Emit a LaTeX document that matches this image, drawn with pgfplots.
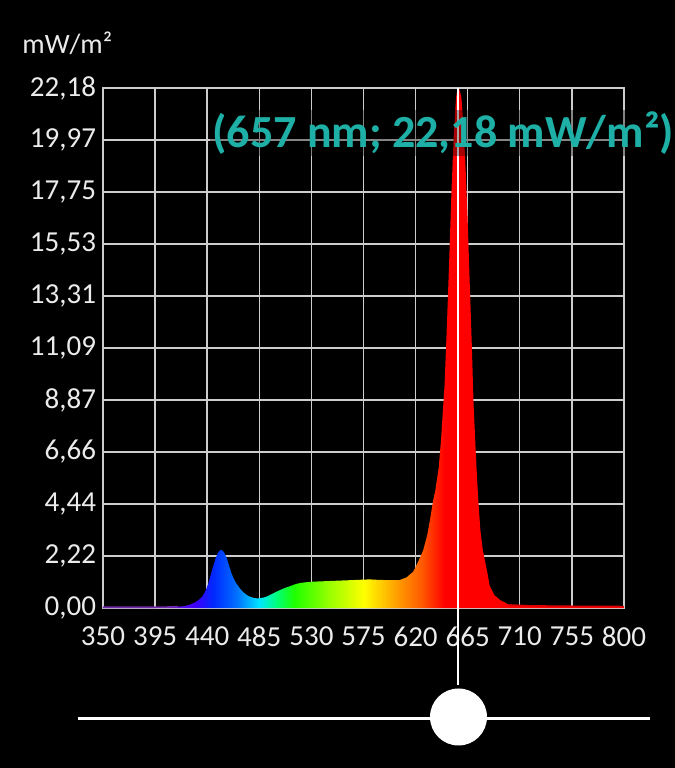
\documentclass[border=0pt]{standalone}
\usepackage{pgfplots}
\pgfplotsset{compat=1.18}
\usepackage{fontspec}
\setmainfont{Carlito}

\definecolor{gridc}{RGB}{205,205,205}
\definecolor{lbl}{RGB}{235,235,235}
\definecolor{annot}{RGB}{30,176,166}
% spectrum colours
\definecolor{sVio}{RGB}{110,40,170}
\definecolor{sVio2}{RGB}{100,20,220}
\definecolor{sInd}{RGB}{60,0,255}
\definecolor{sBlue}{RGB}{0,40,255}
\definecolor{sBlue2}{RGB}{0,110,255}
\definecolor{sCyan}{RGB}{0,230,255}
\definecolor{sTeal}{RGB}{0,255,120}
\definecolor{sGreen}{RGB}{30,255,0}
\definecolor{sLime}{RGB}{150,255,0}
\definecolor{sYel}{RGB}{255,255,0}
\definecolor{sOra}{RGB}{255,170,0}
\definecolor{sOra2}{RGB}{255,90,0}
\definecolor{sRed}{RGB}{255,0,0}

% stop = 25 + (lambda-350)/9  (bbox of path -> inner 50bp)
\pgfdeclarehorizontalshading{spectrum}{100bp}{%
  color(0bp)=(sVio); color(25bp)=(sVio); color(31.67bp)=(sVio2);
  color(33.89bp)=(sInd); color(35.56bp)=(sBlue); color(37.78bp)=(sBlue2);
  color(40bp)=(sCyan); color(41.67bp)=(sTeal); color(43.33bp)=(sGreen);
  color(46.67bp)=(sLime); color(50bp)=(sYel); color(52.78bp)=(sOra);
  color(55.56bp)=(sOra2); color(57.78bp)=(sRed); color(75bp)=(sRed);
  color(100bp)=(sRed)}

\begin{document}
\begin{tikzpicture}[x=1pt,y=1pt]
\useasboundingbox (0,0) rectangle (337.5,384);
\fill[black] (0,0) rectangle (337.5,384);

% unit label
\node[anchor=west, text=lbl, font=\fontsize{14}{16}\selectfont, inner sep=0]
  at (11,362.5) {mW/m²};

\begin{axis}[
    at={(51.5pt,80pt)}, anchor=south west,
    scale only axis, width=260.5pt, height=260pt,
    xmin=350, xmax=800, ymin=0, ymax=22.18,
    xtick={350,395,440,485,530,575,620,665,710,755,800},
    xticklabels={350,395,440,485,530,575,620,665,710,755,800},
    ytick={0,2.218,4.436,6.654,8.872,11.09,13.308,15.526,17.744,19.962,22.18},
    yticklabels={{0,00},{2,22},{4,44},{6,66},{8,87},{11,09},{13,31},{15,53},{17,75},{19,97},{22,18}},
    grid=major,
    grid style={gridc, line width=0.7pt},
    axis line style={gridc, line width=0.7pt},
    major tick length=0pt,
    tick label style={text=lbl, font=\fontsize{14.5}{16}\selectfont},
    xticklabel style={yshift=-6pt},
    clip=false,
  ]

  % spectrum (wavelength nm, mW/m2)
  \addplot[draw=none, shade, shading=spectrum] coordinates {
    (350,0.03) (370,0.03) (390,0.03) (405,0.04) (415,0.06) (420,0.08)
    (425,0.14) (430,0.25) (433,0.36) (436,0.50) (439,0.78) (441,1.05)
    (443,1.40) (445,1.76) (447,2.08) (449,2.33) (451,2.46) (452,2.48)
    (453.5,2.44) (455,2.33) (457,2.12) (459,1.78) (461,1.48) (463,1.24)
    (465,1.06) (468,0.85) (471,0.68) (474,0.56) (477,0.48) (480,0.43)
    (483,0.41) (486,0.42) (489,0.45) (492,0.50) (496,0.60) (500,0.70)
    (504,0.79) (508,0.87) (512,0.94) (517,1.03) (522,1.08) (530,1.12)
    (540,1.14) (550,1.16) (560,1.18) (570,1.20) (580,1.22) (588,1.20)
    (595,1.19) (603,1.19) (606,1.19) (612,1.30) (618,1.55) (622,1.95)
    (626.6,2.47) (630,3.10) (632.4,3.75) (635.2,4.60) (637,5.00) (640,6.00)
    (642,7.20) (645,9.50) (647,12.00) (649,14.80) (651,17.80) (653,20.20)
    (655,21.80) (656,22.10) (657,22.18) (658,22.10) (659.5,21.80) (661,20.80)
    (663,19.00) (665,16.50) (667,13.50) (668.5,11.30) (670,8.80) (672,6.60)
    (674,4.70) (676,3.30) (678,2.50) (680,2.00) (682,1.50) (684,0.95)
    (688,0.55) (693,0.34) (701,0.13) (710,0.11) (720,0.09) (740,0.08)
    (760,0.07) (780,0.07) (800,0.06)
  } \closedcycle;

  % thin outlines of the tails
  \addplot[sVio, line width=0.8pt] coordinates {
    (350,0.03) (370,0.03) (390,0.03) (405,0.04) (415,0.06)
  };
  \addplot[sRed!85!black, line width=0.8pt] coordinates {
    (701,0.13) (710,0.11) (720,0.09) (740,0.08) (760,0.07) (780,0.07) (800,0.06)
  };

  % cursor line
  \draw[white, line width=1pt] (axis cs:657,22.18) -- ([yshift=-38.5pt]axis cs:657,0);
\end{axis}

% peak label
\node[anchor=west, text=annot, fill=black, fill opacity=0.35, text opacity=1,
      inner sep=1pt, font=\bfseries\fontsize{23}{26}\selectfont]
  at (105,317.5) {(657 nm; 22,18 mW/m²)};

% slider
\draw[white, line width=1.2pt] (38.75,24.7) -- (325,24.7);
\fill[white] (229.25,25.5) circle (14.25);
\end{tikzpicture}
\end{document}
